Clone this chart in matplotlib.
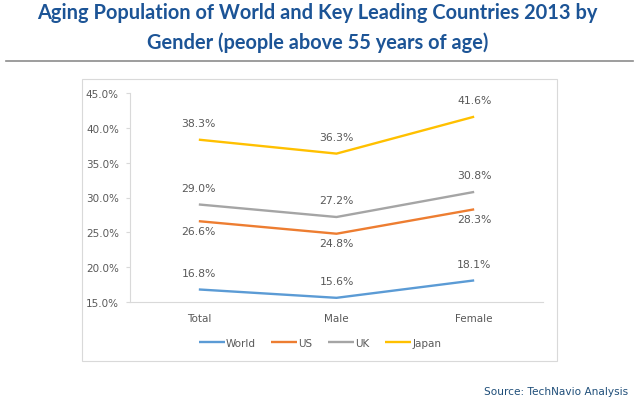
import matplotlib.pyplot as plt
from matplotlib.patches import Rectangle
from matplotlib.lines import Line2D

categories = ['Total', 'Male', 'Female']
world = [16.8, 15.6, 18.1]
us = [26.6, 24.8, 28.3]
uk = [29.0, 27.2, 30.8]
japan = [38.3, 36.3, 41.6]
yticks = [15, 20, 25, 30, 35, 40, 45]

W, H = 635, 402
fig = plt.figure(figsize=(W / 100, H / 100), dpi=100)


def fx(px):
    return px / W


def fy(py):
    return 1 - py / H


title_color = '#1C5496'
fig.text(0.5, fy(13), 'Aging Population of World and Key Leading Countries 2013 by',
         ha='center', va='center', fontsize=14.4, fontweight='bold',
         family='Lato', color=title_color)
fig.text(0.5, fy(43), 'Gender (people above 55 years of age)',
         ha='center', va='center', fontsize=14.4, fontweight='bold',
         family='Lato', color=title_color)
fig.add_artist(Line2D([fx(6), fx(633)], [fy(62), fy(62)], color='#8C8C8C', lw=1.2))

# chart border
fig.add_artist(Rectangle((fx(82), fy(362)), fx(557) - fx(82), fy(80) - fy(362),
                         fill=False, edgecolor='#D9D9D9', lw=0.8))

ax = fig.add_axes([fx(130), fy(303), fx(543) - fx(130), fy(94) - fy(303)])
x = range(len(categories))
series = [('World', world, '#5B9BD5', 'above'),
          ('US', us, '#ED7D31', 'below'),
          ('UK', uk, '#A5A5A5', 'above'),
          ('Japan', japan, '#FFC000', 'above')]
for name, vals, color, pos in series:
    ax.plot(x, vals, color=color, lw=1.7, label=name, solid_capstyle='butt')
    for xi, v in zip(x, vals):
        off = 12 if pos == 'above' else -7
        ax.annotate(f'{v:.1f}%', (xi, v), xytext=(0, off), textcoords='offset points',
                    ha='center', va='center', fontsize=7.8, color='#595959')

ax.set_xlim(-0.5, 2.5)
ax.set_ylim(15, 45)
ax.set_yticks(yticks)
ax.set_yticklabels([f'{t:.1f}%' for t in yticks])
ax.set_xticks(list(x))
ax.set_xticklabels(categories)
ax.tick_params(axis='both', labelsize=7.5, colors='#595959', length=0, pad=8)
ax.tick_params(axis='y', length=3, color='#D9D9D9', pad=5)
for side in ['top', 'right']:
    ax.spines[side].set_visible(False)
ax.spines['left'].set_color('#D9D9D9')
ax.spines['bottom'].set_color('#D9D9D9')

leg = fig.legend(loc='center', bbox_to_anchor=(fx(320), fy(344)), ncol=4,
                 frameon=False, fontsize=7.5, handlelength=2.5, handletextpad=0.1,
                 columnspacing=1.5, labelcolor='#595959')

fig.text(fx(628), fy(392), 'Source: TechNavio Analysis', ha='right', va='center',
         fontsize=7.6, color='#1F4E79')

fig.savefig('out.png', dpi=100)
